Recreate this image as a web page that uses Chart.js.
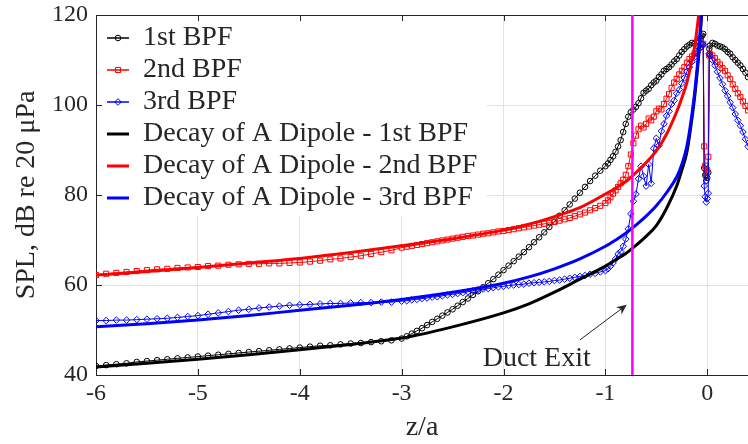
<!DOCTYPE html>
<html><head><meta charset="utf-8">
<script src="https://cdn.jsdelivr.net/npm/chart.js@4.4.1/dist/chart.umd.min.js"></script>
<style>html,body{margin:0;padding:0;background:#fff}canvas{display:block}</style>
</head><body>
<canvas id="c" width="748" height="444"></canvas>
<script>
// ---------- data ----------
const zMeas = [
  -6.0,-5.9,-5.8,-5.7,-5.6,-5.5,-5.4,-5.3,-5.2,-5.1,-5.0,-4.9,-4.8,-4.7,-4.6,-4.5,-4.4,-4.3,-4.2,-4.1,
  -4.0,-3.9,-3.8,-3.7,-3.6,-3.5,-3.4,-3.3,-3.2,-3.1,
  -3.0,-2.95,-2.9,-2.85,-2.8,-2.75,-2.7,-2.65,-2.6,-2.55,-2.5,-2.45,-2.4,-2.35,-2.3,-2.25,-2.2,-2.15,-2.1,-2.05,
  -2.0,-1.95,-1.9,-1.85,-1.8,-1.75,-1.7,-1.65,-1.6,-1.55,-1.5,-1.45,-1.4,-1.35,-1.3,-1.25,-1.2,-1.15,-1.1,-1.05,
  -1.0,-0.975,-0.95,-0.925,-0.9,-0.875,-0.85,-0.825,-0.8,-0.775,-0.75,-0.725,-0.7,-0.675,-0.65,-0.625,-0.6,-0.575,-0.55,-0.525,
  -0.5,-0.475,-0.45,-0.425,-0.4,-0.375,-0.35,-0.325,-0.3,-0.275,-0.25,-0.225,-0.2,-0.175,-0.15,-0.125,-0.1,-0.075,-0.05,
  -0.04,-0.03,-0.02,-0.01,0,0.01,0.02,
  0.025,0.05,0.075,0.1,0.125,0.15,0.175,0.2,0.225,0.25,0.275,0.3,0.325,0.35,0.375,0.4
];
const spl1st = [
  42.0,42.2,42.4,42.6,42.9,43.1,43.3,43.5,43.7,43.9,44.1,44.3,44.5,44.7,44.9,45.1,45.3,45.5,45.7,45.9,
  46.1,46.3,46.5,46.6,46.8,47.0,47.1,47.3,47.5,47.7,
  48.1,48.6,49.2,49.8,50.4,51.1,51.8,52.5,53.2,53.9,54.6,55.4,56.2,57.0,57.8,58.6,59.5,60.4,61.3,62.3,
  63.3,64.3,65.3,66.3,67.3,68.4,69.5,70.6,71.7,72.9,74.1,75.4,76.6,77.9,79.2,80.5,81.8,83.1,84.3,85.4,
  86.4,87.0,87.8,88.6,89.6,90.8,92.2,94.0,95.8,97.4,98.4,99.0,99.6,100.4,101.5,102.7,103.2,103.6,104.4,105.0,
  105.4,106.2,106.8,107.6,108.0,108.4,109.0,109.7,110.2,111.0,111.8,112.4,113.0,113.4,113.8,113.6,114.2,114.8,115.4,
  115.8,86.0,84.4,83.2,83.8,85.0,112.5,
  113.2,113.8,113.6,113.2,113.0,112.8,112.4,111.8,111.4,110.6,110.0,109.4,108.8,108.0,107.2,106.2
];
const spl2nd = [
  62.2,62.5,62.7,62.9,63.1,63.3,63.5,63.6,63.8,63.9,64.0,64.2,64.3,64.5,64.6,64.7,64.7,64.8,64.8,64.9,
  65.0,65.2,65.4,65.7,65.9,66.2,66.5,66.9,67.3,67.7,
  68.3,68.5,68.7,68.9,69.1,69.3,69.5,69.7,69.9,70.1,70.3,70.5,70.7,70.9,71.0,71.2,71.4,71.5,71.7,71.9,
  72.0,72.2,72.4,72.6,72.8,73.0,73.2,73.4,73.6,73.8,74.0,74.3,74.6,74.9,75.3,75.7,76.1,76.6,77.1,77.6,
  78.2,78.8,79.5,80.3,81.0,81.8,82.6,83.4,84.5,86.4,89.0,91.5,93.2,94.6,95.4,95.0,95.8,97.0,96.6,97.4,
  98.6,99.2,99.0,100.2,101.4,102.4,103.8,105.0,105.8,106.8,107.6,108.4,109.4,110.2,110.8,111.4,112.0,112.8,113.4,
  113.6,90.8,86.5,84.8,85.5,88.5,111.0,
  111.4,111.0,110.4,109.6,109.0,108.2,107.6,106.6,105.8,104.6,103.6,102.6,101.8,100.8,99.8,98.8
];
const spl3rd = [
  52.1,52.1,52.2,52.2,52.3,52.4,52.5,52.6,52.8,53.0,53.2,53.5,53.8,54.1,54.4,54.6,54.9,55.1,55.3,55.5,
  55.6,55.7,55.8,55.9,55.9,56.0,56.1,56.1,56.2,56.2,
  56.4,56.5,56.7,56.8,57.0,57.1,57.3,57.4,57.6,57.8,57.9,58.1,58.3,58.5,58.7,58.9,59.1,59.2,59.4,59.6,
  59.7,59.9,60.0,60.1,60.2,60.4,60.5,60.6,60.7,60.8,61.0,61.1,61.3,61.5,61.7,61.9,62.1,62.4,62.6,62.9,
  63.2,63.6,64.2,64.9,65.8,66.9,67.4,68.6,70.2,72.5,75.8,78.6,80.2,83.6,86.4,84.2,82.0,86.8,82.6,90.4,
  92.6,91.0,94.2,95.8,97.6,98.6,100.2,101.0,102.6,103.4,104.8,106.0,107.4,108.4,109.6,110.6,111.6,112.6,113.6,
  113.4,82.0,79.6,78.4,79.2,80.4,111.4,
  111.0,110.0,108.8,107.4,106.0,104.6,103.2,102.0,100.6,99.4,98.0,96.6,95.4,94.0,92.4,90.8
];
const zDipole = [-6,-5.5,-5,-4.5,-4,-3.5,-3,-2.5,-2,-1.75,-1.5,-1.25,-1,-0.9,-0.8,-0.7,-0.6,-0.5,-0.4,-0.3,-0.25,-0.2,-0.15,-0.12,-0.1,-0.08,-0.06,-0.05];
const dipole1st = [41.8,42.6,43.5,44.5,45.6,46.8,48.2,50.7,53.8,55.8,58.4,61.3,64.2,65.6,67.0,68.8,70.8,73.2,77.0,82.0,85.5,89.5,97.0,102.5,107.0,112.0,118.5,122.0];
const dipole2nd = [62.2,63.0,63.9,64.9,65.9,67.2,68.7,70.3,72.2,73.5,75.2,77.2,80.2,81.5,83.0,85.0,87.2,89.8,93.5,98.5,101.5,105.0,110.0,113.5,117.0,121.0,127.0,131.0];
const dipole3rd = [50.7,51.4,52.2,53.2,54.4,55.5,56.8,58.4,60.4,61.8,63.6,65.8,68.6,70.0,71.5,73.3,75.3,77.6,80.5,84.0,86.8,90.8,98.0,103.5,108.0,113.0,119.5,123.0];
const seriesLabels = ['1st BPF','2nd BPF','3rd BPF','Decay of A Dipole - 1st BPF','Decay of A Dipole - 2nd BPF','Decay of A Dipole - 3rd BPF'];
const xTicks = [-6,-5,-4,-3,-2,-1,0];
const yTicks = [40,60,80,100,120];
const xRange = [-6, 0.4];
const yRange = [40, 120];
const ductExitZ = -0.735;
const annotationText = 'Duct Exit';
const arrowTail = {x: -1.25, y: 47.8};
const arrowHead = {x: -0.79, y: 55.6};
const annotationAt = {x: -1.674, y: 41.9};

// ---------- styling ----------
const FONT = '"Liberation Serif", "Times New Roman", serif';
const TXT = '#262626';
Chart.defaults.font.family = FONT;

const pts = (xs, ys) => xs.map((x, i) => ({x, y: ys[i]}));
function measured(label, data, color, style, r, order) {
  return {label, data, borderColor: color, backgroundColor: color, borderWidth: 1,
    pointStyle: style, pointRadius: r, pointBorderWidth: 1, pointBorderColor: color,
    pointBackgroundColor: 'rgba(0,0,0,0)', tension: 0, order};
}
function dipole(label, data, color, order) {
  return {label, data, borderColor: color, backgroundColor: color, borderWidth: 3,
    pointRadius: 0, cubicInterpolationMode: 'monotone', order};
}

const datasets = [
  measured(seriesLabels[0], pts(zMeas, spl1st), '#000000', 'circle', 2.8, 6),
  measured(seriesLabels[1], pts(zMeas, spl2nd), '#ff0000', 'rect', 3.6, 5),
  measured(seriesLabels[2], pts(zMeas, spl3rd), '#0000ff', 'rectRot', 3.3, 4),
  dipole(seriesLabels[3], pts(zDipole, dipole1st), '#000000', 3),
  dipole(seriesLabels[4], pts(zDipole, dipole2nd), '#ff0000', 2),
  dipole(seriesLabels[5], pts(zDipole, dipole3rd), '#0000ff', 1),
  {label: '', data: [{x: ductExitZ, y: yRange[0]}, {x: ductExitZ, y: yRange[1]}],
   borderColor: '#ff00ff', borderWidth: 2.5, pointRadius: 0, order: 0}
];

function drawMarker(ctx, style, x, y, r) {
  ctx.beginPath();
  if (style === 'circle') ctx.arc(x, y, r, 0, Math.PI * 2);
  else if (style === 'rect') { const s = r * Math.SQRT1_2; ctx.rect(x - s, y - s, 2 * s, 2 * s); }
  else { ctx.moveTo(x - r, y); ctx.lineTo(x, y - r); ctx.lineTo(x + r, y); ctx.lineTo(x, y + r); ctx.closePath(); }
  ctx.stroke();
}

const matlabLook = {
  id: 'matlabLook',
  afterLayout(chart) {
    const ca = chart.chartArea, lg = chart.legend;
    if (!lg) return;
    lg.left = ca.left + 7; lg.top = ca.top + 5; lg.right = ca.right; lg.bottom = ca.bottom;
    lg.width = lg.right - lg.left; lg.height = lg.bottom - lg.top;
  },
  beforeDatasetsDraw(chart) {
    const {ctx, chartArea: ca, scales} = chart;
    const lg = chart.legend;
    const lo = chart.options.plugins.legend.labels;
    const fs = lo.font.size;
    ctx.save();
    ctx.font = fs + 'px ' + FONT;
    let tw = 0;
    lg.legendItems.forEach(it => { tw = Math.max(tw, ctx.measureText(it.text).width); });
    const rowH = fs + lo.padding;
    const textX = lg.left + lo.padding + lo.boxWidth + fs / 2;
    const right = Math.min(ca.right, textX + tw + 9);
    const bottom = lg.top + lo.padding + rowH * lg.legendItems.length;
    ctx.fillStyle = '#ffffff';
    ctx.fillRect(ca.left + 1, ca.top + 1, right - ca.left - 1, bottom - ca.top - 1);
    // top box line
    ctx.strokeStyle = TXT; ctx.lineWidth = 1;
    ctx.beginPath();
    const ty = Math.round(ca.top) + 0.5;
    ctx.moveTo(ca.left, ty); ctx.lineTo(ca.right, ty);
    // inward tick marks
    const tl = 6;
    xTicks.forEach(v => {
      const px = Math.round(scales.x.getPixelForValue(v)) + 0.5;
      ctx.moveTo(px, ca.bottom); ctx.lineTo(px, ca.bottom - tl);
      ctx.moveTo(px, ca.top); ctx.lineTo(px, ca.top + tl);
    });
    yTicks.forEach(v => {
      const py = Math.round(scales.y.getPixelForValue(v)) + 0.5;
      ctx.moveTo(ca.left, py); ctx.lineTo(ca.left + tl, py);
    });
    ctx.stroke();
    ctx.restore();
    // legend on top of the white background
    lg.draw();
    // markers on legend samples of measured series
    ctx.save();
    lg.legendItems.forEach((it, i) => {
      const ds = chart.data.datasets[it.datasetIndex];
      if (!ds.pointRadius) return;
      const cx = lg.left + lo.padding + lo.boxWidth / 2;
      const cy = lg.top + lo.padding + i * rowH + fs / 2;
      ctx.strokeStyle = ds.pointBorderColor; ctx.lineWidth = 1;
      drawMarker(ctx, ds.pointStyle, cx, cy, ds.pointRadius);
    });
    ctx.restore();
  },
  afterDatasetsDraw(chart) {
    const {ctx, scales: {x, y}} = chart;
    ctx.save();
    const x0 = x.getPixelForValue(arrowTail.x), y0 = y.getPixelForValue(arrowTail.y);
    const x1 = x.getPixelForValue(arrowHead.x), y1 = y.getPixelForValue(arrowHead.y);
    const ang = Math.atan2(y1 - y0, x1 - x0);
    const L = 10, W = 4.5, N = 7;
    ctx.strokeStyle = TXT; ctx.fillStyle = TXT; ctx.lineWidth = 1;
    ctx.beginPath();
    ctx.moveTo(x0, y0);
    ctx.lineTo(x1 - Math.cos(ang) * N, y1 - Math.sin(ang) * N);
    ctx.stroke();
    const bx = x1 - Math.cos(ang) * L, by = y1 - Math.sin(ang) * L;
    const nx = x1 - Math.cos(ang) * N, ny = y1 - Math.sin(ang) * N;
    ctx.beginPath();
    ctx.moveTo(x1, y1);
    ctx.lineTo(bx - Math.sin(ang) * W, by + Math.cos(ang) * W);
    ctx.lineTo(nx, ny);
    ctx.lineTo(bx + Math.sin(ang) * W, by - Math.cos(ang) * W);
    ctx.closePath();
    ctx.fill();
    ctx.font = '28px ' + FONT;
    ctx.textAlign = 'center';
    ctx.textBaseline = 'alphabetic';
    ctx.fillText(annotationText, x.getPixelForValue(annotationAt.x), y.getPixelForValue(annotationAt.y));
    ctx.restore();
  }
};

new Chart(document.getElementById('c'), {
  type: 'line',
  data: {datasets},
  options: {
    responsive: false,
    animation: false,
    events: [],
    layout: {autoPadding: false, padding: {top: 15, right: 0, bottom: 0, left: 0}},
    scales: {
      x: {
        type: 'linear', min: xRange[0], max: xRange[1],
        ticks: {stepSize: 1, includeBounds: false, padding: 4, color: TXT, font: {size: 24},
          maxRotation: 0, autoSkip: false, callback: v => String(v)},
        afterBuildTicks: s => { s.ticks = xTicks.map(v => ({value: v})); },
        grid: {color: '#e2e2e2', drawTicks: false, lineWidth: 1},
        border: {display: true, color: TXT, width: 1},
        title: {display: true, text: 'z/a', color: TXT, font: {size: 28}, padding: {top: 0, bottom: 0}},
        afterFit: s => { s.height = 69; s.paddingLeft = 0; s.paddingRight = 0; }
      },
      y: {
        type: 'linear', min: yRange[0], max: yRange[1],
        ticks: {stepSize: 20, padding: 8, color: TXT, font: {size: 24}, callback: v => String(v)},
        afterBuildTicks: s => { s.ticks = yTicks.map(v => ({value: v})); },
        grid: {color: '#e2e2e2', drawTicks: false, lineWidth: 1},
        border: {display: true, color: TXT, width: 1},
        title: {display: true, text: 'SPL, dB re 20 μPa', color: TXT, font: {size: 28}, padding: {top: 10, bottom: 0}},
        afterFit: s => { s.width = 96; s.paddingTop = 0; s.paddingBottom = 0; }
      }
    },
    plugins: {
      tooltip: {enabled: false},
      legend: {
        position: 'chartArea', align: 'start',
        labels: {
          color: TXT, font: {size: 28}, boxWidth: 22, boxHeight: 0, padding: 4,
          sort: (a, b) => a.datasetIndex - b.datasetIndex,
          filter: it => it.datasetIndex < seriesLabels.length
        }
      }
    }
  },
  plugins: [matlabLook]
});
</script>
</body></html>
